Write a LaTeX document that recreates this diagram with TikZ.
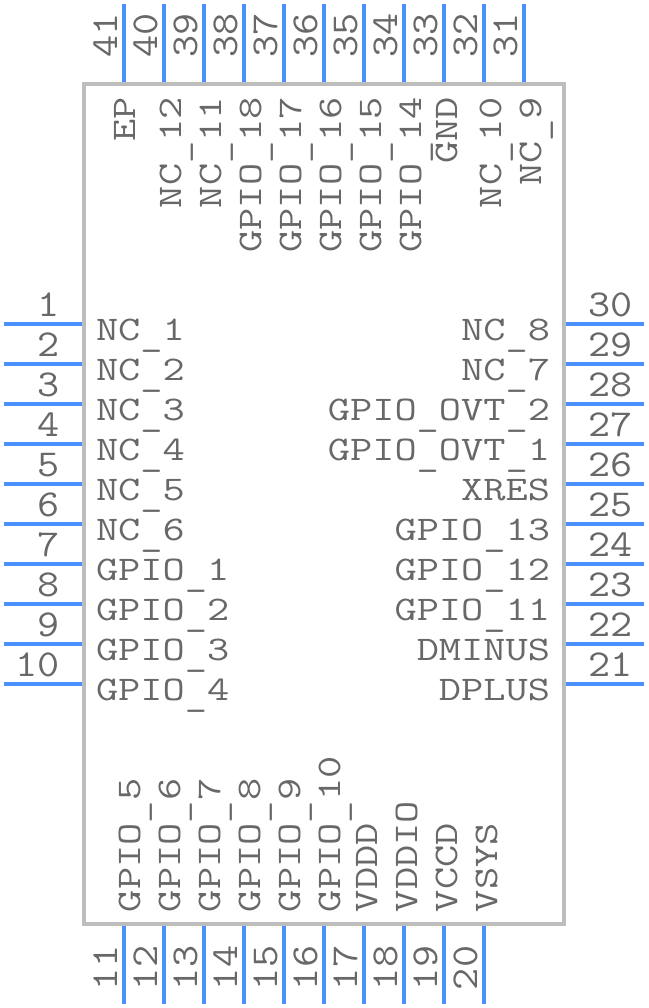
\documentclass[tikz,border=0pt]{standalone}
\usepackage{fontspec}
\newfontfamily\pinfont[FakeStretch=1.25]{Latin Modern Mono}
\newfontfamily\numfont[FakeStretch=1.13]{Latin Modern Mono}
\newcommand{\us}{\raisebox{-5pt}{\_}}
\definecolor{pinblue}{HTML}{4A90FF}
\definecolor{bodygray}{HTML}{BDBDBD}
\definecolor{txtgray}{HTML}{686868}
\tikzset{
  pinline/.style={draw=pinblue,line width=4pt},
  chipbody/.style={draw=bodygray,line width=4pt,fill=white},
  lbl/.style={inner sep=0pt,outer sep=0pt,text=txtgray,font=\pinfont\fontsize{34.5pt}{36pt}\selectfont},
  numlbl/.style={inner sep=0pt,outer sep=0pt,text=txtgray,font=\numfont\fontsize{38pt}{40pt}\selectfont},
  lw/.style={lbl,anchor=base west},
  le/.style={lbl,anchor=base east},
  vw/.style={lbl,anchor=base west,rotate=90},
  ve/.style={lbl,anchor=base east,rotate=90},
  nw/.style={numlbl,anchor=base west},
  ne/.style={numlbl,anchor=base east},
  nv/.style={numlbl,anchor=base west,rotate=90},
}
\begin{document}
\begin{tikzpicture}[x=1pt,y=-1pt]
\useasboundingbox (0,0) rectangle (648,1008);
\fill[white] (0,0) rectangle (648,1008);
\node[chipbody,minimum width=480pt,minimum height=840pt,inner sep=0pt,outer sep=0pt,anchor=north west] (chip) at (84,84) {};
% left pins
\foreach \n/\y/\t in {1/324/NC\us 1,2/364/NC\us 2,3/404/NC\us 3,4/444/NC\us 4,5/484/NC\us 5,6/524/NC\us 6,7/564/GPIO\us 1,8/604/GPIO\us 2,9/644/GPIO\us 3,10/684/GPIO\us 4}{
  \coordinate (pa\n) at (4,\y);
  \coordinate (pb\n) at (82,\y);
  \draw[pinline] (pa\n) -- (pb\n);
  \node[ne] (num\n) at (60,\y-8) {\n};
  \node[lw] (name\n) at (96,\y+16) {\t};
}
% right pins
\foreach \n/\y/\t in {30/324/NC\us 8,29/364/NC\us 7,28/404/GPIO\us OVT\us 2,27/444/GPIO\us OVT\us 1,26/484/XRES,25/524/GPIO\us 13,24/564/GPIO\us 12,23/604/GPIO\us 11,22/644/DMINUS,21/684/DPLUS}{
  \coordinate (pa\n) at (644,\y);
  \coordinate (pb\n) at (566,\y);
  \draw[pinline] (pa\n) -- (pb\n);
  \node[nw] (num\n) at (588,\y-8) {\n};
  \node[le] (name\n) at (550,\y+16) {\t};
}
% top pins
\foreach \n/\x/\o/\t in {41/124/11/EP,40/164/17/NC\us 12,39/204/17/NC\us 11,38/244/17/GPIO\us 18,37/284/17/GPIO\us 17,36/324/17/GPIO\us 16,35/364/17/GPIO\us 15,34/404/17/GPIO\us 14,33/444/13/GND,32/484/17/NC\us 10,31/524/17/NC\us 9}{
  \coordinate (pa\n) at (\x,4);
  \coordinate (pb\n) at (\x,82);
  \draw[pinline] (pa\n) -- (pb\n);
  \node[nv] (num\n) at (\x-7,58) {\n};
  \node[ve] (name\n) at (\x+\o,97) {\t};
}
% bottom pins
\foreach \n/\x/\o/\t in {11/124/16/GPIO\us 5,12/164/16/GPIO\us 6,13/204/16/GPIO\us 7,14/244/16/GPIO\us 8,15/284/16/GPIO\us 9,16/324/16/GPIO\us 10,17/364/13/VDDD,18/404/13/VDDIO,19/444/13/VCCD,20/484/13/VSYS}{
  \coordinate (pa\n) at (\x,1004);
  \coordinate (pb\n) at (\x,926);
  \draw[pinline] (pa\n) -- (pb\n);
  \node[nv] (num\n) at (\x-7,990) {\n};
  \node[vw] (name\n) at (\x+\o,912) {\t};
}
\end{tikzpicture}
\end{document}
